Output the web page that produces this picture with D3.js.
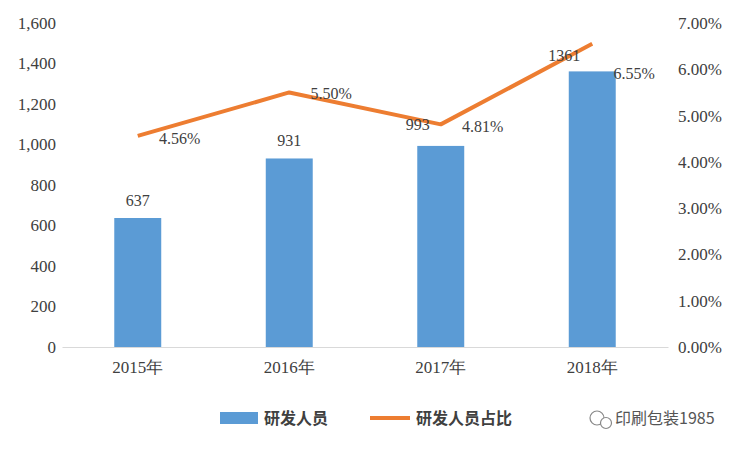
<!DOCTYPE html>
<html><head><meta charset="utf-8">
<script src="https://cdn.jsdelivr.net/npm/d3@7/dist/d3.min.js"></script>
<style>body{margin:0;background:#fff}</style>
</head><body>
<svg id="c" width="752" height="452"></svg>
<script>
// data
var years = ['2015年', '2016年', '2017年', '2018年'];
var staff = [637, 931, 993, 1361];
var ratio = [4.56, 5.50, 4.81, 6.55];
var leftTicks = [0, 200, 400, 600, 800, 1000, 1200, 1400, 1600];
var rightTicks = [0, 1, 2, 3, 4, 5, 6, 7];

var svg = d3.select('#c');
var L = 62, R = 668, T = 23, B = 347;
var serif = '"Liberation Serif", "Times New Roman", serif';

var x = d3.scaleBand().domain(years).range([L, R]).paddingInner(0.69).paddingOuter(0.345);
var y = d3.scaleLinear().domain([0, 1600]).range([B, T]);
var y2 = d3.scaleLinear().domain([0, 7]).range([B, T]);

// left axis
var gl = svg.append('g').attr('transform', 'translate(' + L + ',0)')
	.call(d3.axisLeft(y).tickValues(leftTicks).tickSize(0).tickPadding(6));
gl.select('.domain').remove();
// right axis
var gr = svg.append('g').attr('transform', 'translate(' + R + ',0)')
	.call(d3.axisRight(y2).tickValues(rightTicks).tickSize(0).tickPadding(10)
		.tickFormat(function(d){ return d.toFixed(2) + '%'; }));
gr.select('.domain').remove();
// bottom axis
var gb = svg.append('g').attr('transform', 'translate(0,' + B + ')')
	.call(d3.axisBottom(x).tickSize(0).tickPadding(14));
gb.select('.domain').attr('stroke', '#d9d9d9');
svg.selectAll('.tick text').attr('font-family', serif).attr('font-size', 17).attr('fill', '#404040');

// bars
svg.selectAll('rect.bar').data(staff).enter().append('rect')
	.attr('x', function(d, i){ return x(years[i]); })
	.attr('width', x.bandwidth())
	.attr('y', function(d){ return y(d); })
	.attr('height', function(d){ return B - y(d); })
	.attr('fill', '#5B9BD5');

// line
var cx = function(i){ return x(years[i]) + x.bandwidth() / 2; };
svg.append('path').datum(ratio)
	.attr('d', d3.line().x(function(d, i){ return cx(i); }).y(function(d){ return y2(d); }))
	.attr('fill', 'none').attr('stroke', '#ED7D31').attr('stroke-width', 4).attr('stroke-linejoin', 'round');

// labels
var barOff = [[0, -12], [0, -12], [-23, -16], [-28, -10]];
svg.selectAll('text.bl').data(staff).enter().append('text')
	.attr('x', function(d, i){ return cx(i) + barOff[i][0]; })
	.attr('y', function(d, i){ return y(d) + barOff[i][1]; })
	.attr('text-anchor', 'middle').attr('font-family', serif).attr('font-size', 16).attr('fill', '#404040')
	.text(function(d){ return d; });
var lineOff = [[42, 8], [42, 7], [42, 8], [42, 35]];
svg.selectAll('text.ll').data(ratio).enter().append('text')
	.attr('x', function(d, i){ return cx(i) + lineOff[i][0]; })
	.attr('y', function(d, i){ return y2(d) + lineOff[i][1]; })
	.attr('text-anchor', 'middle').attr('font-family', serif).attr('font-size', 16).attr('fill', '#404040')
	.text(function(d){ return d.toFixed(2) + '%'; });

// legend
var lg = svg.append('g').attr('font-family', '"Noto Sans CJK SC", sans-serif').attr('font-size', 16)
	.attr('font-weight', 'bold').attr('fill', '#404040');
lg.append('rect').attr('x', 220).attr('y', 412).attr('width', 38).attr('height', 12).attr('fill', '#5B9BD5');
lg.append('text').attr('x', 264).attr('y', 424).text('研发人员');
lg.append('line').attr('x1', 370).attr('x2', 410).attr('y1', 418).attr('y2', 418)
	.attr('stroke', '#ED7D31').attr('stroke-width', 4);
lg.append('text').attr('x', 416).attr('y', 424).text('研发人员占比');

// watermark
var wm = svg.append('g');
wm.append('circle').attr('cx', 597).attr('cy', 418).attr('r', 7).attr('fill', 'none').attr('stroke', '#888').attr('stroke-width', 1.2);
wm.append('circle').attr('cx', 606).attr('cy', 423).attr('r', 5.5).attr('fill', '#fff').attr('stroke', '#888').attr('stroke-width', 1.2);
wm.append('text').attr('x', 615).attr('y', 424).attr('font-family', '"Noto Sans CJK SC", sans-serif')
	.attr('font-size', 16).attr('fill', '#555').text('印刷包装1985');
</script>
</body></html>
